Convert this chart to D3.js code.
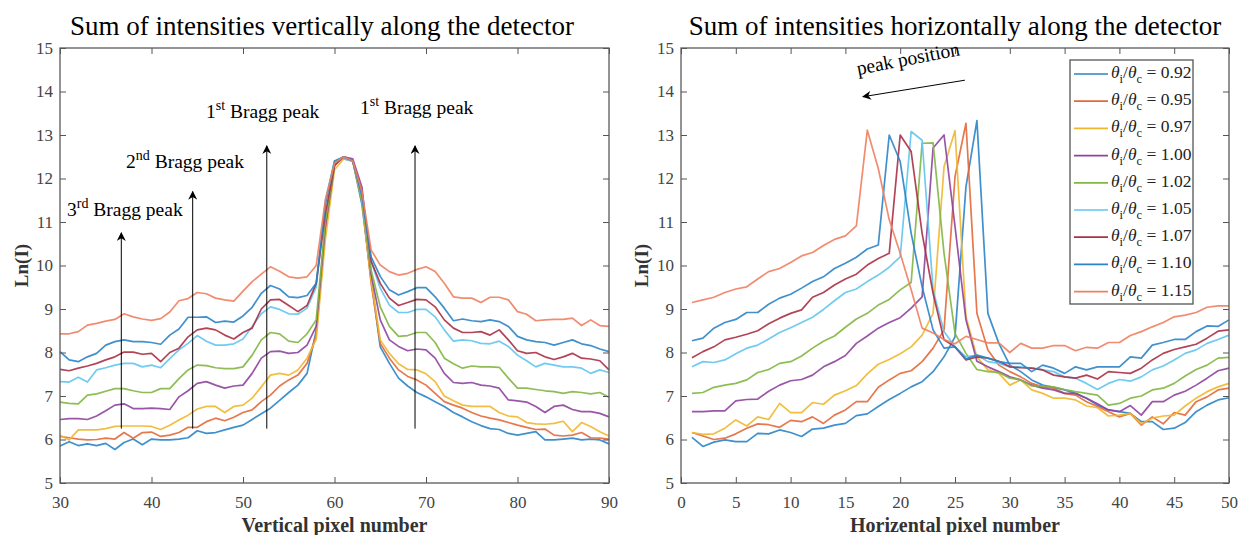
<!DOCTYPE html>
<html>
<head>
<meta charset="utf-8">
<script src="https://cdn.jsdelivr.net/npm/d3@7"></script>
<style>
  body { margin: 0; background: #fff; }
  svg { display: block; }
  svg text { font-family: "Liberation Serif", "Times New Roman", serif; }
</style>
</head>
<body>
<svg id="chart" width="1241" height="535"></svg>
<script>
// ángulos de incidencia (θi/θc) de cada curva
const ratios = ["0.92", "0.95", "0.97", "1.00", "1.02", "1.05", "1.07", "1.10", "1.15"];
const colors = ["#2a84c8", "#e2693a", "#efb72e", "#8e449d", "#82b643", "#62c5f0", "#aa3045", "#2a84c8", "#ef8060"];

// panel izquierdo: píxel vertical 30..90
const vPixel = [30,31,32,33,34,35,36,37,38,39,40,41,42,43,44,45,46,47,48,49,50,51,52,53,54,55,56,57,58,59,
  60,61,62,63,64,65,66,67,68,69,70,71,72,73,74,75,76,77,78,79,80,81,82,83,84,85,86,87,88,89,90];

const vert092 = [5.85,5.95,5.86,5.9,5.86,5.91,5.77,5.93,6.01,5.88, 6.01,5.99,5.99,6.01,6.04,6.2,6.14,6.16,6.22,6.28,
  6.33,6.46,6.59,6.72,6.9,7.08,7.25,7.52,8.5,10.9, 12.35,12.5,12.4,11.4,9.7,8.13,7.75,7.41,7.23,7.08,
  6.98,6.87,6.76,6.62,6.52,6.41,6.32,6.25,6.23,6.14, 6.1,6.14,6.18,5.99,5.99,6.01,6.03,5.99,6.01,5.99,5.9];
const vert095 = [6.07,6.04,6.01,5.99,6.0,6.03,6.01,6.16,6.03,6.16, 6.17,6.07,6.1,6.16,6.28,6.28,6.41,6.49,6.43,6.51,
  6.62,6.68,6.87,7.02,7.23,7.37,7.48,7.75,8.4,10.8, 12.3,12.5,12.4,11.5,9.6,8.21,7.87,7.6,7.45,7.37,
  7.25,7.06,6.87,6.79,6.72,6.62,6.54,6.49,6.45,6.39, 6.33,6.28,6.23,6.24,6.1,6.08,6.1,6.16,6.04,6.03,6.01];
const vert097 = [6.1,5.99,6.22,6.22,6.22,6.25,6.3,6.31,6.31,6.31, 6.3,6.23,6.33,6.45,6.56,6.7,6.76,6.76,6.62,6.76,
  6.79,6.95,7.21,7.48,7.52,7.48,7.6,7.87,8.3,10.6, 12.2,12.45,12.4,11.5,9.67,8.29,7.98,7.74,7.61,7.6,
  7.51,7.33,7.0,6.89,6.79,6.76,6.76,6.76,6.62,6.54, 6.52,6.39,6.36,6.35,6.37,6.42,6.18,6.39,6.3,6.18,6.08];
const vert100 = [6.46,6.48,6.48,6.46,6.54,6.66,6.79,6.82,6.71,6.71, 6.72,6.71,6.69,6.98,7.12,7.29,7.33,7.25,7.18,7.23,
  7.25,7.52,7.87,8.02,8.03,7.98,8.0,8.17,8.6,10.9, 12.3,12.5,12.45,11.8,9.8,8.75,8.29,8.14,8.04,8.08,
  8.06,7.87,7.52,7.31,7.29,7.31,7.25,7.23,7.18,6.91, 6.89,6.86,6.76,6.62,6.76,6.79,6.69,6.64,6.64,6.6,6.52];
const vert102 = [6.86,6.83,6.82,7.02,7.05,7.11,7.17,7.17,7.12,7.08, 7.08,7.17,7.17,7.4,7.6,7.71,7.7,7.65,7.63,7.63,
  7.67,7.94,8.29,8.46,8.43,8.26,8.23,8.43,8.75,11.0, 12.3,12.5,12.4,11.5,9.9,9.05,8.6,8.37,8.39,8.46,
  8.46,8.23,7.87,7.74,7.64,7.69,7.67,7.67,7.66,7.41, 7.18,7.18,7.15,7.12,7.1,7.06,7.1,7.08,7.05,7.08,6.97];
const vert105 = [7.33,7.32,7.43,7.32,7.6,7.65,7.71,7.75,7.75,7.67, 7.71,7.65,7.86,8.06,8.21,8.39,8.26,8.17,8.17,8.2,
  8.31,8.6,8.89,9.05,8.99,8.89,8.88,9.02,9.51,11.5, 12.4,12.45,12.4,11.6,10.1,9.48,9.09,8.92,8.92,8.99,
  8.99,8.82,8.52,8.26,8.29,8.27,8.21,8.2,8.26,8.14, 7.94,7.81,7.67,7.75,7.71,7.67,7.67,7.64,7.52,7.6,7.54];
const vert107 = [7.61,7.58,7.64,7.69,7.75,7.83,7.9,8.01,8.01,7.96, 7.98,7.79,8.0,8.1,8.36,8.52,8.56,8.52,8.4,8.31,
  8.46,8.56,9.0,9.21,9.22,9.08,8.94,9.08,9.59,11.2, 12.3,12.5,12.4,11.7,10.1,9.59,9.25,9.08,9.15,9.22,
  9.21,9.05,8.75,8.56,8.46,8.46,8.48,8.4,8.52,8.29, 8.04,7.98,8.0,7.9,7.84,7.9,7.98,7.87,7.85,7.81,7.6];
const vert110 = [8.02,7.83,7.79,7.9,7.98,8.17,8.25,8.29,8.25,8.25, 8.23,8.19,8.4,8.54,8.81,8.81,8.82,8.69,8.72,8.7,
  8.84,9.04,9.36,9.54,9.46,9.28,9.26,9.31,9.59,11.4, 12.4,12.5,12.4,11.6,10.2,9.75,9.44,9.32,9.4,9.49,
  9.49,9.28,9.02,8.73,8.77,8.73,8.71,8.75,8.71,8.6, 8.37,8.29,8.25,8.23,8.17,8.23,8.29,8.2,8.16,8.08,8.02];
const vert115 = [8.43,8.43,8.48,8.63,8.67,8.72,8.76,8.89,8.82,8.77, 8.74,8.78,8.93,9.19,9.24,9.38,9.35,9.25,9.21,9.18,
  9.41,9.63,9.8,9.97,9.87,9.74,9.71,9.74,10.0,11.5, 12.35,12.5,12.4,11.7,10.36,10.01,9.86,9.78,9.82,9.91,
  9.97,9.86,9.59,9.28,9.25,9.25,9.15,9.27,9.27,9.21, 8.94,8.88,8.73,8.75,8.76,8.76,8.79,8.62,8.75,8.62,8.6];

// panel derecho: píxel horizontal 1..50
const hPixel = [1,2,3,4,5,6,7,8,9,10,11,12,13,14,15,16,17,18,19,20,21,22,23,24,25,
  26,27,28,29,30,31,32,33,34,35,36,37,38,39,40,41,42,43,44,45,46,47,48,49,50];

const horz092 = [6.05,5.84,5.94,5.99,5.95,5.95,6.14,6.13,6.22,6.16, 6.07,6.24,6.26,6.33,6.37,6.55,6.59,6.76,6.92,7.06,
  7.21,7.33,7.56,7.9,8.36,11.81,13.33,8.9,8.21,7.71, 7.56,7.37,7.25,7.2,7.14,7.06,6.95,6.79,6.68,6.64,
  6.6,6.41,6.41,6.23,6.26,6.39,6.64,6.79,6.91,6.96];
const horz095 = [6.16,6.08,6.0,6.03,6.13,6.26,6.36,6.34,6.28,6.44, 6.41,6.52,6.37,6.56,6.68,6.87,6.87,7.2,7.37,7.52,
  7.58,7.79,8.1,8.52,12.04,13.27,8.9,8.06,7.71,7.56, 7.44,7.29,7.21,7.18,7.06,7.02,6.87,6.76,6.64,6.52,
  6.6,6.33,6.52,6.36,6.62,6.56,6.87,6.98,7.14,7.18];
const horz097 = [6.16,6.12,6.13,6.26,6.45,6.31,6.52,6.46,6.83,6.62, 6.62,6.85,6.81,7.02,7.12,7.24,7.51,7.73,7.84,7.97,
  8.13,8.4,8.9,12.27,13.1,8.82,7.9,7.6,7.52,7.25, 7.37,7.14,7.06,6.95,6.95,6.91,6.77,6.73,6.54,6.56,
  6.6,6.36,6.49,6.54,6.56,6.77,6.95,7.1,7.21,7.29];
const horz100 = [6.64,6.64,6.66,6.66,6.89,6.92,6.93,7.11,7.25,7.35, 7.38,7.48,7.67,7.79,7.93,8.21,8.38,8.56,8.69,8.8,
  9.02,9.28,12.7,13.0,10.9,8.75,7.8,7.67,7.56,7.44, 7.37,7.25,7.18,7.14,7.06,7.06,6.95,6.82,6.68,6.64,
  6.78,6.56,6.87,6.87,7.02,7.11,7.25,7.41,7.58,7.64];
const horz102 = [7.06,7.08,7.2,7.25,7.29,7.37,7.54,7.61,7.75,7.79, 7.92,8.1,8.26,8.38,8.58,8.77,8.9,9.09,9.22,9.44,
  9.61,12.81,12.82,10.28,8.44,7.98,7.61,7.56,7.54,7.41, 7.37,7.23,7.23,7.21,7.15,7.1,7.06,7.02,6.79,6.83,
  6.95,7.0,7.14,7.18,7.29,7.46,7.61,7.71,7.87,7.89];
const horz105 = [7.67,7.79,7.77,7.83,7.97,8.1,8.17,8.31,8.46,8.57, 8.69,8.81,8.99,9.19,9.38,9.46,9.63,9.78,9.96,10.2,
  13.08,12.88,9.44,8.48,8.13,7.9,7.94,7.79,7.75,7.67, 7.67,7.64,7.6,7.56,7.44,7.41,7.29,7.15,7.29,7.38,
  7.34,7.44,7.6,7.69,7.83,7.98,8.06,8.21,8.3,8.4];
const horz107 = [7.88,8.02,8.13,8.29,8.35,8.42,8.5,8.66,8.79,8.9, 8.98,9.27,9.38,9.55,9.69,9.8,10.01,10.16,10.28,13.0,
  12.62,10.74,9.36,8.29,8.13,7.83,7.9,7.87,7.8,7.67, 7.65,7.64,7.6,7.48,7.44,7.41,7.48,7.39,7.56,7.54,
  7.52,7.64,7.83,7.98,8.07,8.13,8.19,8.33,8.49,8.52];
const horz110 = [8.27,8.33,8.56,8.69,8.76,8.92,8.92,9.11,9.25,9.34, 9.48,9.63,9.74,9.93,10.05,10.19,10.38,10.47,13.0,12.39,
  10.74,9.51,8.52,8.1,8.13,7.85,7.94,7.87,7.79,7.75, 7.75,7.56,7.71,7.64,7.52,7.67,7.6,7.67,7.67,7.67,
  7.9,7.87,8.17,8.23,8.3,8.3,8.48,8.61,8.6,8.75];
const horz115 = [9.15,9.21,9.27,9.38,9.46,9.51,9.69,9.86,9.93,10.07, 10.22,10.3,10.46,10.6,10.68,10.91,13.11,12.23,11.05,10.28,
  9.44,8.56,8.45,8.3,8.2,8.37,8.3,8.22,8.22,8.0, 8.21,8.1,8.1,8.16,8.16,8.04,8.12,8.1,8.23,8.23,
  8.39,8.48,8.59,8.69,8.82,8.86,8.92,9.04,9.07,9.07];

const vertSeries = [vert092, vert095, vert097, vert100, vert102, vert105, vert107, vert110, vert115];
const horzSeries = [horz092, horz095, horz097, horz100, horz102, horz105, horz107, horz110, horz115];

const yTicks = [5, 6, 7, 8, 9, 10, 11, 12, 13, 14, 15];
const vTicks = [30, 40, 50, 60, 70, 80, 90];
const hTicks = [0, 5, 10, 15, 20, 25, 30, 35, 40, 45, 50];

// flechas de los picos de Bragg (en unidades de datos)
const braggArrows = [
  { x: 36.7, y0: 6.25, y1: 10.75, ord: "3", sup: "rd", tx: 67, ty: 216 },
  { x: 44.5, y0: 6.25, y1: 11.7, ord: "2", sup: "nd", tx: 126, ty: 168 },
  { x: 52.6, y0: 6.25, y1: 12.75, ord: "1", sup: "st", tx: 206, ty: 118 },
  { x: 68.8, y0: 6.25, y1: 12.75, ord: "1", sup: "st", tx: 360, ty: 114 }
];

const SERIF = "Liberation Serif, Times New Roman, serif";

const svg = d3.select("#chart");
svg.append("rect").attr("width", 1241).attr("height", 535).attr("fill", "#fff");

const y = d3.scaleLinear().domain([5, 15]).range([483, 48]);

function drawPanel(opts) {
  const x = d3.scaleLinear().domain(opts.domain).range(opts.range);
  const g = svg.append("g");
  const top = 48, bottom = 483, left = opts.range[0], right = opts.range[1];

  // curvas
  const line = d3.line().x((d, i) => x(opts.xs[i])).y(d => y(d));
  opts.series.forEach((s, k) => {
    g.append("path")
      .datum(s)
      .attr("d", line)
      .attr("fill", "none")
      .attr("stroke", colors[k])
      .attr("stroke-width", 1.7)
      .attr("stroke-opacity", 0.9)
      .attr("stroke-linejoin", "round");
  });

  // ejes (estilo matlab, ticks hacia dentro)
  const styleAxis = sel => {
    sel.attr("font-family", SERIF).attr("font-size", 17);
    sel.select(".domain").remove();
    sel.selectAll(".tick line").attr("stroke", "#555").attr("stroke-width", 1);
    sel.selectAll(".tick text").attr("fill", "#444");
  };
  g.append("g").attr("transform", `translate(0,${bottom})`)
    .call(d3.axisBottom(x).tickValues(opts.ticks).tickSize(-6).tickPadding(13)).call(styleAxis);
  g.append("g").attr("transform", `translate(0,${top})`)
    .call(d3.axisTop(x).tickValues(opts.ticks).tickSize(-6).tickFormat("")).call(styleAxis);
  g.append("g").attr("transform", `translate(${left},0)`)
    .call(d3.axisLeft(y).tickValues(yTicks).tickSize(-6).tickPadding(7)).call(styleAxis);
  g.append("g").attr("transform", `translate(${right},0)`)
    .call(d3.axisRight(y).tickValues(yTicks).tickSize(-6).tickFormat("")).call(styleAxis);

  g.append("rect")
    .attr("x", left).attr("y", top)
    .attr("width", right - left).attr("height", bottom - top)
    .attr("fill", "none").attr("stroke", "#5a5a5a").attr("stroke-width", 1.3);

  // textos
  svg.append("text")
    .attr("x", opts.titleX).attr("y", 35)
    .attr("text-anchor", "middle")
    .attr("font-size", 27)
    .text(opts.title);
  svg.append("text")
    .attr("x", (left + right) / 2).attr("y", 532)
    .attr("text-anchor", "middle")
    .attr("font-size", 20).attr("font-weight", "bold").attr("fill", "#333")
    .text(opts.xLabel);
  svg.append("text")
    .attr("transform", `translate(${opts.yLabelX},${(top + bottom) / 2}) rotate(-90)`)
    .attr("text-anchor", "middle")
    .attr("font-size", 19).attr("font-weight", "bold").attr("fill", "#333")
    .text("Ln(I)");

  return x;
}

const xV = drawPanel({
  domain: [30, 90], range: [60, 609], xs: vPixel, series: vertSeries, ticks: vTicks,
  title: "Sum of intensities vertically along the detector", titleX: 322,
  xLabel: "Vertical pixel number", yLabelX: 28
});

const xH = drawPanel({
  domain: [0, 50], range: [681, 1229], xs: hPixel, series: horzSeries, ticks: hTicks,
  title: "Sum of intensities horizontally along the detector", titleX: 955,
  xLabel: "Horizental pixel number", yLabelX: 648
});

// punta de flecha
svg.append("defs").append("marker")
  .attr("id", "head")
  .attr("viewBox", "0 0 10 10")
  .attr("refX", 9).attr("refY", 5)
  .attr("markerWidth", 10).attr("markerHeight", 9)
  .attr("markerUnits", "userSpaceOnUse")
  .attr("orient", "auto")
  .append("path").attr("d", "M0,0 L10,5 L0,10 L3,5 Z").attr("fill", "#000");

braggArrows.forEach(a => {
  svg.append("line")
    .attr("x1", xV(a.x)).attr("y1", y(a.y0))
    .attr("x2", xV(a.x)).attr("y2", y(a.y1))
    .attr("stroke", "#000").attr("stroke-width", 1)
    .attr("marker-end", "url(#head)");
  const t = svg.append("text").attr("x", a.tx).attr("y", a.ty).attr("font-size", 19.5);
  t.append("tspan").text(a.ord);
  t.append("tspan").attr("dy", -8).attr("font-size", 14).text(a.sup);
  t.append("tspan").attr("dy", 8).text(" Bragg peak");
});

// "peak position"
svg.append("line")
  .attr("x1", xH(25.9)).attr("y1", y(14.26))
  .attr("x2", xH(16.6)).attr("y2", y(13.88))
  .attr("stroke", "#000").attr("stroke-width", 1)
  .attr("marker-end", "url(#head)");
svg.append("text")
  .attr("transform", "translate(858,75) rotate(-11)")
  .attr("font-size", 19.5)
  .text("peak position");

// leyenda
const leg = svg.append("g");
leg.append("rect")
  .attr("x", 1070).attr("y", 60).attr("width", 123).attr("height", 244)
  .attr("fill", "#fff").attr("stroke", "#555").attr("stroke-width", 1.3);
ratios.forEach((r, k) => {
  const ly = 74 + k * 27.2;
  leg.append("line")
    .attr("x1", 1074).attr("x2", 1108).attr("y1", ly).attr("y2", ly)
    .attr("stroke", colors[k]).attr("stroke-width", 1.7);
  const t = leg.append("text").attr("x", 1111).attr("y", ly + 4).attr("font-size", 17.5).attr("fill", "#222");
  t.append("tspan").attr("font-style", "italic").text("θ");
  t.append("tspan").attr("dy", 5).attr("font-size", 12.5).text("i");
  t.append("tspan").attr("dy", -5).text("/");
  t.append("tspan").attr("font-style", "italic").text("θ");
  t.append("tspan").attr("dy", 5).attr("font-size", 12.5).text("c");
  t.append("tspan").attr("dy", -5).text(" = " + r);
});
</script>
</body>
</html>
